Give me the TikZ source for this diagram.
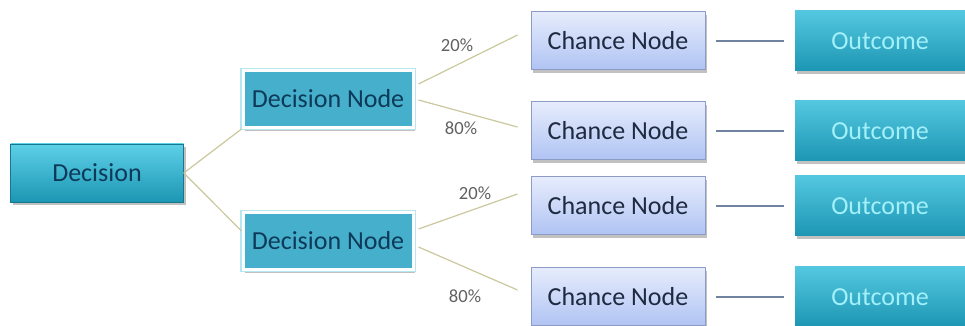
\documentclass[tikz,border=0pt]{standalone}
\usepackage{fontspec}
\setmainfont{Carlito}
\usepackage{tikz}
\usetikzlibrary{shapes,arrows,shadows}

\definecolor{tealtop}{HTML}{5ED0E8}
\definecolor{tealbot}{HTML}{1C96B3}
\definecolor{dnfill}{HTML}{46AFCB}
\definecolor{dnring}{HTML}{B6E6F0}
\definecolor{chtop}{HTML}{E6ECFC}
\definecolor{chbot}{HTML}{AFC3F3}
\definecolor{chedge}{HTML}{8C9CC4}
\definecolor{navy}{HTML}{0D3A58}
\definecolor{inkdark}{HTML}{1E2A40}
\definecolor{outtxt}{HTML}{A4F0FA}
\definecolor{branch}{HTML}{CBC79E}
\definecolor{link}{HTML}{7282A2}

\tikzset{
  box/.style={rectangle, inner sep=0pt, font=\fontsize{13}{15}\selectfont,
    drop shadow={shadow xshift=1pt, shadow yshift=-1.6pt, opacity=.35, fill=black!70}},
  decision/.style={box, minimum width=86.5pt, minimum height=29pt,
    top color=tealtop, bottom color=tealbot, draw=tealbot!80!black, line width=.3pt,
    text=navy},
  decnode/.style={box, minimum width=85pt, minimum height=28.5pt, fill=dnfill,
    preaction={draw=dnring, line width=2.6pt}, draw=white, line width=1.5pt,
    text=navy},
  chance/.style={box, minimum width=87pt, minimum height=29pt,
    top color=chtop, bottom color=chbot, draw=chedge, line width=.5pt,
    text=inkdark},
  outcome/.style={box, minimum width=85pt, minimum height=30pt,
    top color=tealtop!85!tealbot, bottom color=tealbot, text=outtxt},
  pct/.style={font=\fontsize{9.3}{11}\selectfont, text=black!62},
  branchline/.style={draw=branch, line width=.6pt},
  linkline/.style={draw=link, line width=.6pt, shorten <=5pt, shorten >=5.5pt}
}

\begin{document}
\begin{tikzpicture}[x=0.5pt,y=0.5pt]
\useasboundingbox (0,0) rectangle (965,326);

% root and the two decision nodes
\node[decision] (dec) at (97,153) {Decision};
\node[decnode] (dn1) at (328,227) {Decision Node};
\node[decnode] (dn2) at (328,85) {Decision Node};

% chance column
\node[chance] (c1) at (618,285) {Chance Node};
\node[chance] (c2) at (618,195) {Chance Node};
\node[chance] (c3) at (618,120) {Chance Node};
\node[chance] (c4) at (618,29) {Chance Node};

% outcomes
\node[outcome] (o1) at (880,285) {Outcome};
\node[outcome] (o2) at (880,195) {Outcome};
\node[outcome] (o3) at (880,120) {Outcome};
\node[outcome] (o4) at (880,29) {Outcome};

% branches
\draw[branchline] (dec.east) -- (dn1.south west);
\draw[branchline] (dec.east) -- ([yshift=5pt]dn2.west);

\draw[branchline] ([xshift=2pt,yshift=7.5pt]dn1.east) -- ([xshift=-6.5pt,yshift=3pt]c1.west);
\draw[branchline] ([xshift=2pt,yshift=-.5pt]dn1.east) -- ([xshift=-6.5pt,yshift=2pt]c2.west);
\draw[branchline] ([xshift=2pt,yshift=6pt]dn2.east) -- ([xshift=-6.5pt,yshift=6pt]c3.west);
\draw[branchline] ([xshift=2pt,yshift=-3pt]dn2.east) -- ([xshift=-6.5pt,yshift=3.5pt]c4.west);

\node[pct] (p1) at (457,281) {20\%};
\node[pct] (p2) at (461,198) {80\%};
\node[pct] (p3) at (475,133) {20\%};
\node[pct] (p4) at (465,30) {80\%};

% chance -> outcome
\foreach \i in {1,...,4}
  \draw[linkline] (c\i.east) -- (o\i.west);
\end{tikzpicture}
\end{document}
